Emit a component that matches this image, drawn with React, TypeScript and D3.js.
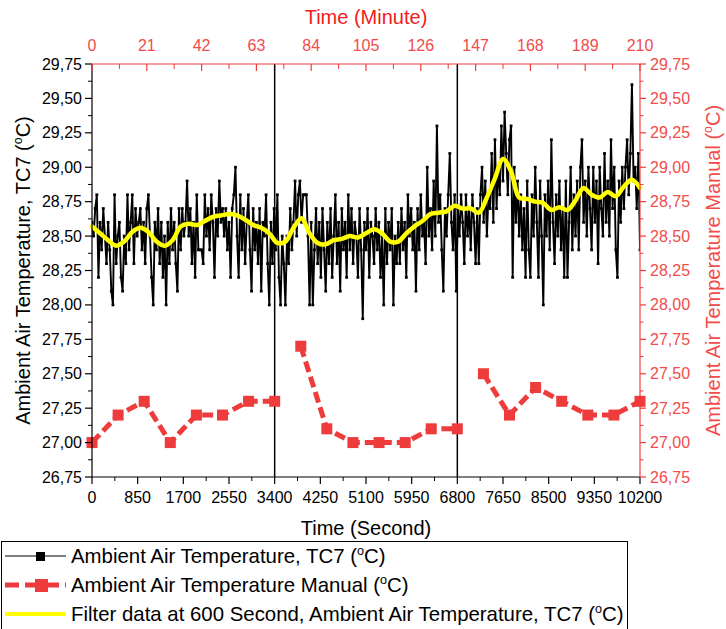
import React from "react";
import * as d3 from "d3";

// ---------- DATA ----------
const TC7_STEP_SECONDS = 30;
const tc7Values = [
  28.6, 28.5, 28.7, 28.8, 28.2, 28.6, 28.4, 28.7, 28.5, 28.3,
  28.6, 28.4, 28.1, 28.0, 28.8, 28.3, 28.5, 28.6, 28.2, 28.1,
  28.5, 28.3, 28.8, 28.4, 28.6, 28.8, 28.3, 28.7, 28.5, 28.6,
  28.7, 28.4, 28.6, 28.3, 28.7, 28.8, 28.5, 28.2, 28.0, 28.6,
  28.4, 28.7, 28.3, 28.6, 28.2, 28.5, 28.0, 28.6, 28.3, 28.7,
  28.4, 28.6, 28.3, 28.1, 28.7, 28.4, 28.7, 28.5, 28.6, 28.9,
  28.5, 28.7, 28.3, 28.6, 28.2, 28.8, 28.4, 28.4, 28.4, 28.3,
  28.8, 28.5, 28.7, 28.4, 28.8, 28.6, 28.2, 28.7, 28.5, 28.9,
  28.6, 28.7, 28.5, 28.7, 28.4, 28.6, 28.2, 28.7, 28.8, 29.0,
  28.5, 28.2, 28.8, 28.4, 28.7, 28.3, 28.6, 28.8, 28.4, 28.1,
  28.7, 28.4, 28.6, 28.3, 28.7, 28.1, 28.6, 28.5, 28.8, 28.3,
  28.0, 28.6, 28.3, 28.7, 28.4, 28.8, 28.2, 28.0, 28.5, 28.3,
  28.0, 28.5, 28.3, 28.7, 28.4, 28.6, 28.9, 28.5, 28.8, 28.9,
  28.6, 28.8, 28.8, 28.8, 28.5, 28.0, 28.6, 28.0, 28.4, 28.7,
  28.3, 28.6, 28.2, 28.7, 28.4, 28.1, 28.6, 28.3, 28.7, 28.2,
  28.5, 28.8, 28.3, 28.6, 28.1, 28.7, 28.4, 28.6, 28.2, 28.8,
  28.4, 28.7, 28.3, 28.6, 28.5, 28.2, 28.7, 28.4, 27.9, 28.6,
  28.4, 28.7, 28.2, 28.6, 28.5, 28.3, 28.7, 28.4, 28.6, 28.2,
  28.5, 28.0, 28.7, 28.3, 28.6, 28.4, 28.7, 28.0, 28.5, 28.3,
  28.6, 28.3, 28.7, 28.4, 28.6, 28.2, 28.8, 28.5, 28.7, 28.4,
  28.6, 28.1, 28.7, 28.4, 28.8, 28.5, 28.6, 28.3, 29.0, 28.5,
  28.7, 28.4, 28.9, 28.5, 29.3, 28.6, 28.8, 28.4, 28.1, 28.7,
  28.5, 28.8, 29.1, 28.6, 28.4, 28.8, 28.1, 28.7, 28.5, 28.8,
  28.6, 28.3, 28.8, 28.5, 28.7, 28.4, 28.8, 28.6, 28.3, 28.7,
  28.3, 28.8, 29.0, 28.6, 28.9, 28.5, 28.8, 28.7, 29.1, 28.6,
  29.2, 28.7, 29.0, 28.8, 29.3, 28.9, 29.4, 29.1, 28.8, 29.2,
  29.3, 28.2, 29.0, 28.6, 28.9, 28.5, 28.8, 28.4, 28.7, 28.2,
  28.9, 28.4, 28.2, 28.8, 28.5, 29.0, 28.6, 28.2, 28.9, 28.5,
  28.0, 28.8, 28.5, 28.9, 28.4, 29.2, 28.6, 28.3, 28.8, 28.5,
  28.9, 28.4, 28.7, 28.2, 28.9, 28.2, 28.6, 29.0, 28.4, 28.8,
  28.5, 28.9, 28.4, 29.0, 29.2, 28.6, 28.9, 28.5, 29.0, 28.7,
  28.4, 29.0, 28.6, 28.9, 28.3, 29.0, 28.7, 28.5, 29.1, 28.6,
  28.9, 28.5, 29.2, 28.7, 29.0, 28.4, 28.2, 28.9, 28.6, 29.0,
  28.7, 29.0, 29.2, 28.8, 29.1, 29.6, 28.9, 29.0, 28.7, 29.1,
  28.4,
];

const FILTER_STEP_SECONDS = 150;
const filterValues = [
  28.57, 28.52, 28.47, 28.43, 28.46, 28.53, 28.56, 28.53, 28.46, 28.43,
  28.47, 28.57, 28.59, 28.58, 28.61, 28.64, 28.65, 28.66, 28.65, 28.62,
  28.58, 28.56, 28.52, 28.45, 28.46, 28.56, 28.63, 28.52, 28.45, 28.44,
  28.47, 28.48, 28.5, 28.49, 28.52, 28.55, 28.52, 28.46, 28.46, 28.52,
  28.57, 28.61, 28.66, 28.67, 28.68, 28.72, 28.7, 28.7, 28.67, 28.78,
  28.92, 29.06, 28.97, 28.78, 28.77, 28.75, 28.74, 28.69, 28.71, 28.69,
  28.76, 28.85, 28.8, 28.78, 28.82, 28.79, 28.86, 28.91, 28.85,
];

const manualTimes = [
  0, 486, 971, 1457, 1943, 2429, 2914, 3400,
  3886, 4371, 4857, 5343, 5829, 6314, 6800,
  7286, 7771, 8257, 8743, 9229, 9714, 10200,
];
const manualValues = [
  27.0, 27.2, 27.3, 27.0, 27.2, 27.2, 27.3, 27.3,
  27.7, 27.1, 27.0, 27.0, 27.0, 27.1, 27.1,
  27.5, 27.2, 27.4, 27.3, 27.2, 27.2, 27.3,
];
const manualSegment = [
  0, 0, 0, 0, 0, 0, 0, 0,
  1, 1, 1, 1, 1, 1, 1,
  2, 2, 2, 2, 2, 2, 2,
];

const secondTicks = [0, 850, 1700, 2550, 3400, 4250, 5100, 5950, 6800, 7650, 8500, 9350, 10200];
const minuteTicks = [0, 21, 42, 63, 84, 105, 126, 147, 168, 189, 210];
const tempTicks = [26.75, 27.0, 27.25, 27.5, 27.75, 28.0, 28.25, 28.5, 28.75, 29.0, 29.25, 29.5, 29.75];
const markerLines = [3400, 6800];

const legendLabels = [
  "Ambient Air Temperature, TC7 (",
  "Ambient Air Temperature Manual (",
  "Filter data at 600 Second, Ambient Air Temperature, TC7 (",
];

// ---------- LAYOUT ----------
const W = 726;
const H = 629;
const L = 92, R = 640, T = 64, B = 477;
const FONT = "'Liberation Sans', Arial, Helvetica, sans-serif";
const RED = "#ee3b3b";
const RED_TEXT = "#f24b4b";
const RED_TITLE = "#f21a1a";

const fmt = (v: number) => v.toFixed(2).replace(".", ",");

function Deg({ size }: { size: number }) {
  return (
    <>
      <tspan fontSize={size * 0.62} dy={-size * 0.38}>o</tspan>
      <tspan dy={size * 0.38}>C)</tspan>
    </>
  );
}

export default function App() {
  const x = d3.scaleLinear().domain([0, 10200]).range([L, R]);
  const xm = d3.scaleLinear().domain([0, 210]).range([L, R]);
  const y = d3.scaleLinear().domain([26.75, 29.75]).range([B, T]);

  const tc7 = tc7Values.map((v, i) => ({ t: i * TC7_STEP_SECONDS, v }));
  const filt = filterValues.map((v, i) => ({ t: i * FILTER_STEP_SECONDS, v }));
  const manual = manualValues.map((v, i) => ({ t: manualTimes[i], v, s: manualSegment[i] }));
  const segments = d3.groups(manual, (d) => d.s).map((g) => g[1]);

  const line = d3.line<{ t: number; v: number }>().x((d) => x(d.t)).y((d) => y(d.v));
  const smooth = d3
    .line<{ t: number; v: number }>()
    .x((d) => x(d.t))
    .y((d) => y(d.v))
    .curve(d3.curveCatmullRom.alpha(0.5));

  const secMinor = d3.range(425, 10200, 850);
  const minMinor = d3.range(10.5, 210, 21);
  const tempMinor = d3.range(26.875, 29.75, 0.25);

  const legendY = [556, 585, 614];
  const LF = 20.4;

  return (
    <svg
      width={W}
      height={H}
      style={{ position: "absolute", left: 0, top: 0, display: "block", background: "#fff" }}
      fontFamily={FONT}
    >
      <defs>
        <clipPath id="plotclip">
          <rect x={L} y={T} width={R - L} height={B - T} />
        </clipPath>
      </defs>

      {/* black TC7 series */}
      <g clipPath="url(#plotclip)">
        <path d={line(tc7) || ""} fill="none" stroke="#000" strokeWidth={1.9} strokeLinejoin="miter" />
        {tc7.map((d, i) => (
          <rect key={i} x={x(d.t) - 1.4} y={y(d.v) - 1.4} width={2.8} height={2.8} fill="#000" />
        ))}
      </g>

      {/* vertical marker lines */}
      {markerLines.map((t) => (
        <line key={t} x1={x(t)} x2={x(t)} y1={T} y2={B} stroke="#000" strokeWidth={1.5} />
      ))}

      {/* filtered yellow */}
      <path d={smooth(filt) || ""} fill="none" stroke="#ffff00" strokeWidth={4.5} strokeLinejoin="round" strokeLinecap="round" />

      {/* manual red */}
      {segments.map((seg, i) => (
        <path key={i} d={line(seg) || ""} fill="none" stroke={RED} strokeWidth={5} strokeDasharray="11 5" />
      ))}
      {manual.map((d, i) => (
        <rect key={i} x={x(d.t) - 5.5} y={y(d.v) - 5.5} width={11} height={11} fill={RED} />
      ))}

      {/* bottom axis */}
      <line x1={L} x2={R} y1={B} y2={B} stroke="#000" strokeWidth={1.2} />
      {secondTicks.map((t) => (
        <g key={t}>
          <line x1={x(t)} x2={x(t)} y1={B} y2={B + 7} stroke="#000" strokeWidth={1.2} />
          <text x={x(t)} y={B + 26} fontSize={16} textAnchor="middle" fill="#000">{t}</text>
        </g>
      ))}
      {secMinor.map((t) => (
        <line key={t} x1={x(t)} x2={x(t)} y1={B} y2={B + 4} stroke="#000" strokeWidth={1} />
      ))}
      <text x={(L + R) / 2} y={535} fontSize={20} textAnchor="middle" fill="#000">Time (Second)</text>

      {/* left axis */}
      <line x1={L} x2={L} y1={T} y2={B} stroke="#000" strokeWidth={1.2} />
      {tempTicks.map((v) => (
        <g key={v}>
          <line x1={L - 7} x2={L} y1={y(v)} y2={y(v)} stroke="#000" strokeWidth={1.2} />
          <text x={L - 10} y={y(v) + 5.5} fontSize={16} textAnchor="end" fill="#000">{fmt(v)}</text>
        </g>
      ))}
      {tempMinor.map((v) => (
        <line key={v} x1={L - 4} x2={L} y1={y(v)} y2={y(v)} stroke="#000" strokeWidth={1} />
      ))}
      <text transform={`translate(30, ${(T + B) / 2}) rotate(-90)`} fontSize={20} textAnchor="middle" fill="#000">
        Ambient Air Temperature, TC7 (<Deg size={20} />
      </text>

      {/* top axis (minutes) */}
      <line x1={L} x2={R} y1={T} y2={T} stroke={RED} strokeWidth={1.2} />
      {minuteTicks.map((m) => (
        <g key={m}>
          <line x1={xm(m)} x2={xm(m)} y1={T} y2={T + 7} stroke={RED} strokeWidth={1.2} />
          <text x={xm(m)} y={T - 13} fontSize={16} textAnchor="middle" fill={RED_TEXT}>{m}</text>
        </g>
      ))}
      {minMinor.map((m) => (
        <line key={m} x1={xm(m)} x2={xm(m)} y1={T} y2={T + 5} stroke={RED} strokeWidth={1} />
      ))}
      <text x={(L + R) / 2} y={24} fontSize={20} textAnchor="middle" fill={RED_TITLE}>Time (Minute)</text>

      {/* right axis */}
      <line x1={R} x2={R} y1={T} y2={B} stroke={RED} strokeWidth={1.2} />
      {tempTicks.map((v) => (
        <g key={v}>
          <line x1={R} x2={R + 6} y1={y(v)} y2={y(v)} stroke={RED} strokeWidth={1.2} />
          <text x={R + 10} y={y(v) + 5.5} fontSize={16} textAnchor="start" fill={RED_TEXT}>{fmt(v)}</text>
        </g>
      ))}
      {tempMinor.map((v) => (
        <line key={v} x1={R} x2={R + 3.5} y1={y(v)} y2={y(v)} stroke={RED} strokeWidth={1} />
      ))}
      <text transform={`translate(720, ${(T + B) / 2}) rotate(-90)`} fontSize={20} textAnchor="middle" fill={RED_TEXT}>
        Ambient Air Temperature Manual (<Deg size={20} />
      </text>

      {/* legend */}
      <rect x={1.5} y={541.5} width={626} height={100} fill="#fff" stroke="#000" strokeWidth={1} />
      {/* row 1 */}
      <line x1={5} x2={66} y1={legendY[0]} y2={legendY[0]} stroke="#000" strokeWidth={1} />
      <rect x={36} y={legendY[0] - 4} width={9} height={9} fill="#000" />
      {/* row 2 */}
      <line x1={5} x2={66} y1={legendY[1]} y2={legendY[1]} stroke={RED} strokeWidth={5} strokeDasharray="14 6" />
      <rect x={35} y={legendY[1] - 6} width={13} height={13} fill={RED} />
      {/* row 3 */}
      <line x1={5} x2={66} y1={legendY[2]} y2={legendY[2]} stroke="#ffff00" strokeWidth={4} />
      {legendLabels.map((lab, i) => (
        <text key={i} x={71} y={legendY[i] + 7} fontSize={LF} fill="#000">
          {lab}<Deg size={LF} />
        </text>
      ))}
    </svg>
  );
}
